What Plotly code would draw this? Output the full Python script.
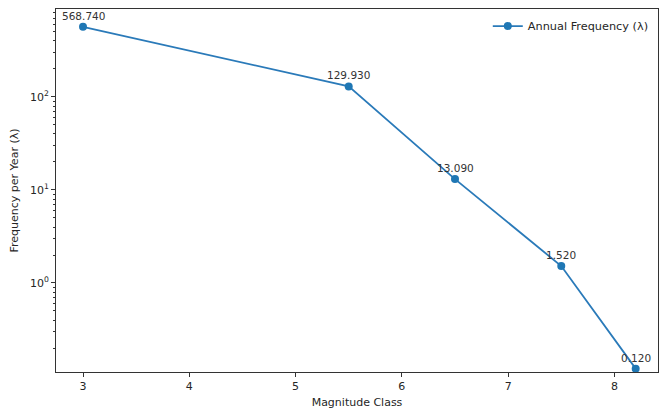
import math
import plotly.graph_objects as go

magnitude = [3.0, 5.5, 6.5, 7.5, 8.2]
frequency = [568.74, 129.93, 13.09, 1.52, 0.12]
labels = [f"{v:.3f}" for v in frequency]
x_ticks = [3, 4, 5, 6, 7, 8]
y_ticks = [1, 10, 100]
y_ticktext = ["10<sup>0</sup>", "10<sup>1</sup>", "10<sup>2</sup>"]
y_minor = [m * d for d in (0.1, 1, 10, 100) for m in range(2, 10)]

fig = go.Figure()
fig.add_trace(go.Scatter(
    x=magnitude, y=frequency, mode="lines+markers",
    name="Annual Frequency (λ)",
    line=dict(color="#2a7ab9", width=1.8),
    marker=dict(color="#1f77b4", size=8),
))
for x, y, t in zip(magnitude, frequency, labels):
    fig.add_annotation(x=x, y=math.log10(y), text=t, showarrow=False,
                       yshift=11, font=dict(size=10.5, color="#333333"))

font = "DejaVu Sans, sans-serif"
fig.update_layout(
    width=659, height=410,
    margin=dict(l=56, r=1, t=9, b=38, autoexpand=False),
    paper_bgcolor="white", plot_bgcolor="white",
    font=dict(family=font, size=11, color="#262626"),
    showlegend=True,
    legend=dict(x=0.993, y=0.993, xanchor="right", yanchor="top",
                bgcolor="rgba(0,0,0,0)", font=dict(size=11.3)),
)
fig.update_xaxes(
    range=[2.746, 8.41], tickvals=x_ticks, automargin=False,
    showgrid=False, zeroline=False,
    showline=True, linecolor="#333333", linewidth=1, mirror=True,
    ticks="outside", ticklen=4, tickcolor="#333333",
    title=dict(text="Magnitude Class", font=dict(size=11), standoff=6),
)
fig.update_yaxes(
    type="log", range=[-0.957, 2.946], automargin=False,
    tickvals=y_ticks, ticktext=y_ticktext,
    showgrid=False, zeroline=False,
    showline=True, linecolor="#333333", linewidth=1, mirror=True,
    ticks="outside", ticklen=4, tickcolor="#333333",
    minor=dict(ticks="outside", ticklen=2, tickcolor="#333333",
               tickvals=y_minor, showgrid=False),
    title=dict(text="Frequency per Year (λ)", font=dict(size=11), standoff=9),
)
fig.write_html("out.html", config={"displayModeBar": False},
               post_script="document.body.style.margin='0';")
